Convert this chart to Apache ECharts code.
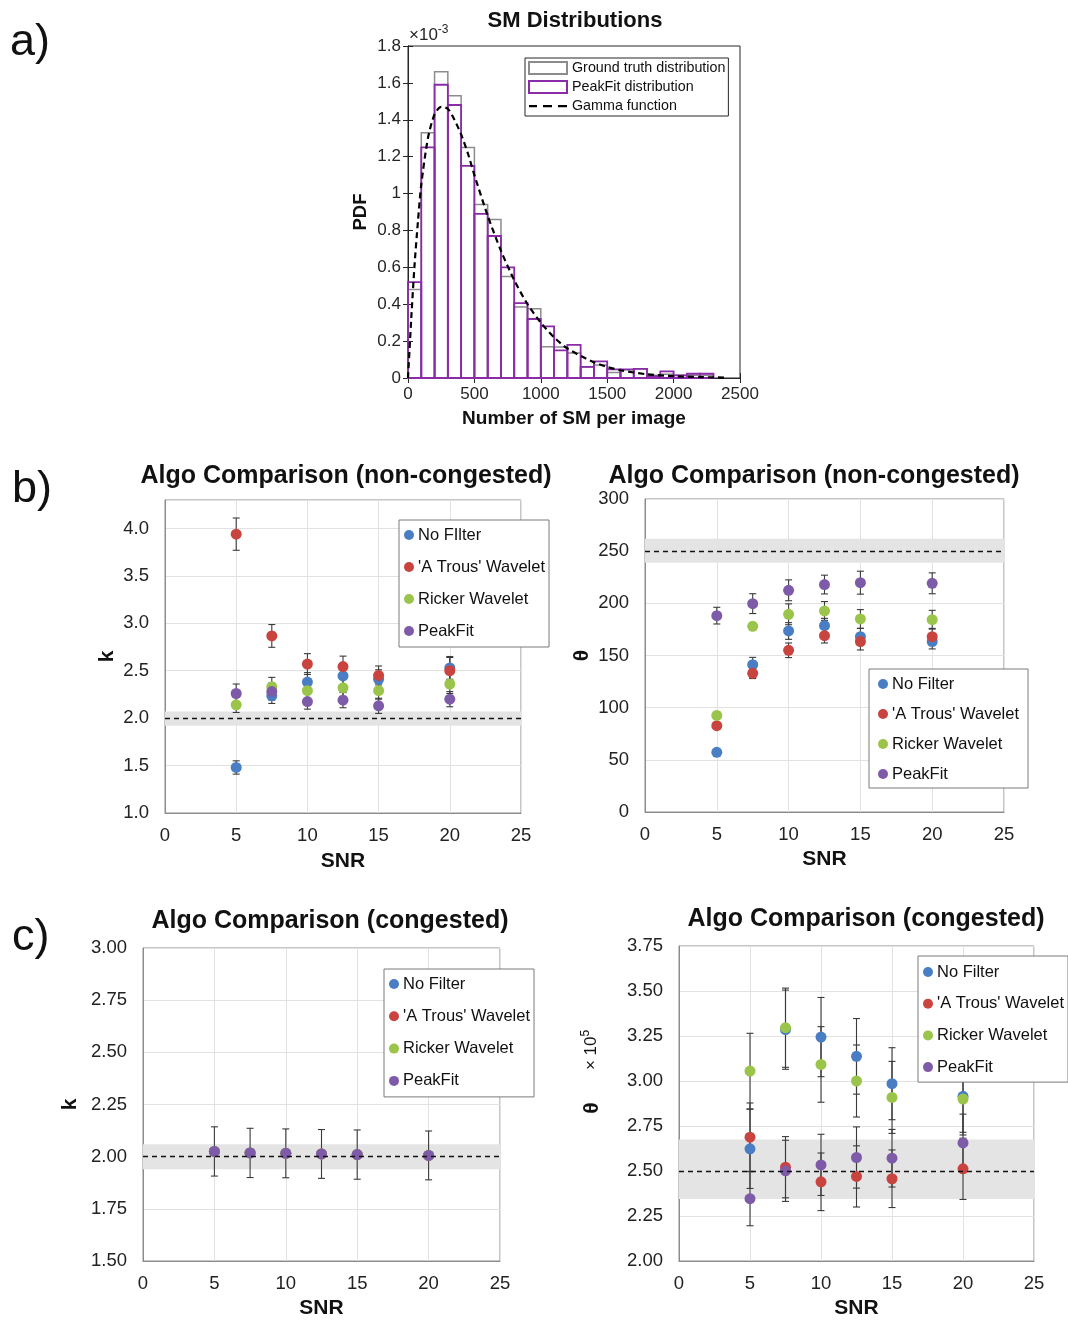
<!DOCTYPE html>
<html><head><meta charset="utf-8">
<script src="https://cdn.jsdelivr.net/npm/echarts@6/dist/echarts.min.js"></script>
<style>html,body{margin:0;padding:0;background:#fff}#c{width:1068px;height:1320px}</style>
</head><body><div id="c"></div>
<script>
const FONT = "'Liberation Sans', Arial, Helvetica, sans-serif";

// ---------- Panel a data (PDF values in units of 1e-3) ----------
const binStarts = [0,100,200,300,400,500,600,700,800,900,1000,1100,1200,1300,1400,1500,1600,1700,1800,1900,2000,2100,2200];
const binWidth = 100;
const groundTruthPdf = [0.48,1.33,1.66,1.53,1.25,0.94,0.86,0.55,0.385,0.376,0.17,0.168,0.135,0.06,0.07,0.03,0.045,0.05,0.015,0.02,0.015,0.015,0.015];
const peakFitPdf     = [0.52,1.25,1.59,1.48,1.15,0.89,0.77,0.60,0.406,0.32,0.28,0.15,0.18,0.06,0.09,0.047,0.047,0.05,0.01,0.036,0.014,0.023,0.023];
const gammaX = [0,25,50,75,100,150,200,250,300,350,400,450,500,600,700,800,900,1000,1100,1200,1300,1400,1500,1600,1800,2000,2200,2400];
const gammaY = [0,0.33,0.62,0.85,1.05,1.30,1.43,1.47,1.46,1.40,1.32,1.22,1.10,0.88,0.69,0.53,0.40,0.30,0.22,0.16,0.12,0.085,0.06,0.042,0.02,0.01,0.005,0.002];

// ---------- SNR panels ----------
const snr = [5,7.5,10,12.5,15,20];
const namesB1 = ['No FIlter', "'A Trous' Wavelet", 'Ricker Wavelet', 'PeakFit'];
const names = ['No Filter', "'A Trous' Wavelet", 'Ricker Wavelet', 'PeakFit'];
const colors = ['#4A7EC4', '#C9433F', '#9BC44B', '#7E5BA8'];

// b) k, non-congested
const kNC_noFilter = [1.48,2.235,2.38,2.445,2.41,2.53];
const kNC_aTrous   = [3.94,2.867,2.57,2.544,2.45,2.50];
const kNC_ricker   = [2.14,2.33,2.29,2.32,2.29,2.36];
const kNC_peakFit  = [2.26,2.28,2.175,2.19,2.13,2.20];
const kNC_err_noFilter = [0.07,0.08,0.10,0.10,0.10,0.12];
const kNC_err_aTrous   = [0.17,0.12,0.11,0.11,0.10,0.14];
const kNC_err_ricker   = [0.08,0.10,0.09,0.09,0.09,0.10];
const kNC_err_peakFit  = [0.10,0.09,0.08,0.08,0.08,0.08];
const kNC_band = [1.92,2.07], kNC_ref = 2;

// b) theta, non-congested
const tNC_noFilter = [57.2,141.2,173.5,178.6,168,163.3];
const tNC_aTrous   = [82.7,132.9,155,169,163.3,168];
const tNC_ricker   = [92.6,178,189.5,192.7,185,184.3];
const tNC_peakFit  = [188.2,199.7,212.5,218,219.8,219.2];
const tNC_err_noFilter = [1,7,8,7,8,7];
const tNC_err_aTrous   = [1,5,7,7,8,8];
const tNC_err_ricker   = [3,3,10,9,9,9];
const tNC_err_peakFit  = [8,9.5,10,9,11,10];
const tNC_band = [239,262], tNC_ref = 250;

// c) k, congested (all four series coincide; PeakFit drawn on top)
const kC_noFilter = [2.025,2.018,2.016,2.013,2.01,2.006];
const kC_aTrous   = [2.025,2.018,2.016,2.013,2.01,2.006];
const kC_ricker   = [2.025,2.018,2.016,2.013,2.01,2.006];
const kC_peakFit  = [2.025,2.018,2.016,2.013,2.01,2.006];
const kC_err_peakFit = [0.118,0.118,0.117,0.117,0.118,0.117];
const kC_band = [1.94,2.06], kC_ref = 2;

// c) theta (x 1e5), congested
const tC_noFilter = [2.623,3.285,3.244,3.137,2.985,2.915];
const tC_aTrous   = [2.688,2.521,2.44,2.47,2.457,2.512];
const tC_ricker   = [3.055,3.296,3.092,3.0,2.909,2.90];
const tC_peakFit  = [2.346,2.501,2.534,2.575,2.571,2.656];
const tC_err_noFilter = [0.22,0.22,0.22,0.21,0.20,0.20];
const tC_err_aTrous   = [0.19,0.17,0.16,0.17,0.16,0.17];
const tC_err_ricker   = [0.21,0.22,0.21,0.20,0.20,0.20];
const tC_err_peakFit  = [0.15,0.17,0.17,0.17,0.16,0.16];
const tC_band = [2.345,2.675], tC_ref = 2.5;

const xTicksSNR = [0,25,5];

// ---------- helpers ----------
function histRender(color, lw) {
  return function (params, api) {
    const a = api.coord([api.value(0), api.value(2)]);
    const b = api.coord([api.value(1), 0]);
    return {type:'rect', shape:{x:a[0], y:a[1], width:b[0]-a[0], height:b[1]-a[1]},
      style:{fill:'none', stroke:color, lineWidth:lw}};
  };
}
function errRender(params, api) {
  const x = api.value(0);
  const t = api.coord([x, api.value(2)]);
  const b = api.coord([x, api.value(1)]);
  const w = 3.5, st = {stroke:'#3a3a3a', lineWidth:1.1};
  return {type:'group', children:[
    {type:'line', shape:{x1:t[0], y1:t[1], x2:b[0], y2:b[1]}, style:st},
    {type:'line', shape:{x1:t[0]-w, y1:t[1], x2:t[0]+w, y2:t[1]}, style:st},
    {type:'line', shape:{x1:b[0]-w, y1:b[1], x2:b[0]+w, y2:b[1]}, style:st}
  ]};
}
// panel p (1..4) uses axis index p+1 (axes 0/1 belong to panel a)
function snrPanelSeries(p, nm, vals, errs, band, ref) {
  const ax = p + 1;
  const out = [{
    type:'line', xAxisIndex:ax, yAxisIndex:ax, data:[], z:1, silent:true,
    markArea:{silent:true, itemStyle:{color:'#e4e4e4'}, data:[[{yAxis:band[0]},{yAxis:band[1]}]]},
    markLine:{silent:true, symbol:['none','none'], label:{show:false},
      lineStyle:{color:'#111', type:[5,4], width:1.3}, data:[{yAxis:ref}]}
  }];
  for (let s = 0; s < 4; s++) {
    if (!errs[s]) continue;
    out.push({type:'custom', xAxisIndex:ax, yAxisIndex:ax, z:3, silent:true,
      renderItem:errRender, encode:{x:0, y:[1,2]},
      data: snr.map((x,i)=>[x, vals[s][i]-errs[s][i], vals[s][i]+errs[s][i]])});
  }
  for (let s = 0; s < 4; s++) {
    out.push({type:'scatter', name:nm[s], xAxisIndex:ax, yAxisIndex:ax, z:4,
      symbol:'circle', symbolSize:11, itemStyle:{color:colors[s], opacity:1},
      data: snr.map((x,i)=>[x, vals[s][i]])});
  }
  return out;
}
function snrX(g, nameGap) {
  return {type:'value', gridIndex:g, min:xTicksSNR[0], max:xTicksSNR[1], interval:xTicksSNR[2],
    name:'SNR', nameLocation:'middle', nameGap:nameGap,
    nameTextStyle:{fontFamily:FONT, fontSize:21, fontWeight:'bold', color:'#111'},
    axisLine:{show:true, lineStyle:{color:'#8c8c8c', width:1}}, axisTick:{show:false},
    axisLabel:{fontFamily:FONT, fontSize:18.5, color:'#222', margin:13},
    splitLine:{show:true, lineStyle:{color:'#e2e2e2', width:1}}};
}
function snrY(g, min, max, interval, dec, name, nameGap) {
  return {type:'value', gridIndex:g, min:min, max:max, interval:interval,
    name:name, nameLocation:'middle', nameGap:nameGap, nameRotate:90,
    nameTextStyle:{fontFamily:FONT, fontSize:21, fontWeight:'bold', color:'#111'},
    axisLine:{show:true, lineStyle:{color:'#8c8c8c', width:1}}, axisTick:{show:false},
    axisLabel:{fontFamily:FONT, fontSize:18.5, color:'#222', margin:16, showMaxLabel:true,
      formatter: v => { const r=(v-min)/interval; return Math.abs(r-Math.round(r))>1e-6 ? '' : v.toFixed(dec); }},
    splitLine:{show:true, lineStyle:{color:'#e2e2e2', width:1}}};
}
function snrLegend(left, top, nm, pad, gap) {
  return {show:true, orient:'vertical', left:left, top:top, data:nm, icon:'circle',
    itemWidth:10, itemHeight:10, itemGap:gap, padding:pad,
    backgroundColor:'#fff', borderColor:'#7a7a7a', borderWidth:1, borderRadius:0,
    selectedMode:false,
    textStyle:{fontFamily:FONT, fontSize:16.5, color:'#111', lineHeight:18, padding:[0,0,0,-1]}};
}

const axisA = {color:'#262626', width:1};
const dashIcon = 'path://M0,0h0.01v0.01h-0.01z M38,12h0.01v0.01h-0.01z M0,5h8v2.2h-8z M14,5h9v2.2h-9z M29,5h9v2.2h-9z';
const option = {
  animation:false,
  backgroundColor:'#fff',
  textStyle:{fontFamily:FONT},
  grid:[
    {left:408, top:46, width:332, height:332, show:true, borderColor:'#262626', borderWidth:1, backgroundColor:'#fff'},
    {left:165, top:500, width:356, height:313, show:true, borderColor:'#8c8c8c', borderWidth:1},
    {left:645, top:499, width:359, height:313, show:true, borderColor:'#8c8c8c', borderWidth:1},
    {left:143, top:948, width:357, height:314, show:true, borderColor:'#8c8c8c', borderWidth:1},
    {left:679, top:946, width:355, height:316, show:true, borderColor:'#8c8c8c', borderWidth:1}
  ],
  xAxis:[
    {type:'value', gridIndex:0, min:0, max:2500, interval:500,
     name:'Number of SM per image', nameLocation:'middle', nameGap:31,
     nameTextStyle:{fontFamily:FONT, fontSize:19, fontWeight:'bold', color:'#111'},
     axisLine:{lineStyle:axisA}, axisTick:{inside:true, length:5, lineStyle:axisA},
     axisLabel:{fontFamily:FONT, fontSize:17, color:'#262626', margin:8, formatter: v => String(v)},
     splitLine:{show:false}},
    {type:'value', gridIndex:0, position:'top', min:0, max:2500, interval:500,
     axisLine:{lineStyle:axisA}, axisTick:{inside:true, length:5, lineStyle:axisA},
     axisLabel:{show:false}, splitLine:{show:false}},
    snrX(1, 38), snrX(2, 37), snrX(3, 37), snrX(4, 37)
  ],
  yAxis:[
    {type:'value', gridIndex:0, min:0, max:1.8, interval:0.2,
     name:'PDF', nameLocation:'middle', nameGap:38, nameRotate:90,
     nameTextStyle:{fontFamily:FONT, fontSize:18.5, fontWeight:'bold', color:'#111'},
     axisLine:{lineStyle:axisA}, axisTick:{inside:true, length:5, lineStyle:axisA},
     axisLabel:{fontFamily:FONT, fontSize:17, color:'#262626', margin:7,
       formatter: v => String(Math.round(v*10)/10)}, splitLine:{show:false}},
    {type:'value', gridIndex:0, position:'right', min:0, max:1.8, interval:0.2,
     axisLine:{lineStyle:axisA}, axisTick:{inside:true, length:5, lineStyle:axisA},
     axisLabel:{show:false}, splitLine:{show:false}},
    snrY(1, 1, 4.3, 0.5, 1, 'k', 47),
    snrY(2, 0, 300, 50, 0, 'θ', 52),
    snrY(3, 1.5, 3.0, 0.25, 2, 'k', 62),
    snrY(4, 2.0, 3.75, 0.25, 2, '', 50)
  ],
  legend:[
    {show:true, orient:'vertical', left:525, top:58, padding:[3,3,3,3], itemGap:5,
     itemWidth:38, itemHeight:12, selectedMode:false,
     backgroundColor:'#fff', borderColor:'#262626', borderWidth:1,
     textStyle:{fontFamily:FONT, fontSize:14.3, color:'#111', lineHeight:12.5},
     data:[
       {name:'Ground truth distribution', icon:'rect', itemStyle:{color:'#fff', borderColor:'#8c8c8c', borderWidth:2}},
       {name:'PeakFit distribution', icon:'rect', itemStyle:{color:'#fff', borderColor:'#8A2BA8', borderWidth:2}},
       {name:'Gamma function', icon:dashIcon, itemStyle:{color:'#000', borderWidth:0}}
     ]},
    snrLegend(399, 520, namesB1, [6,4,7,5], 14),
    snrLegend(869, 669, names, [6,9,5,9], 12),
    snrLegend(384, 969, names, [6,4,7,5], 14.3),
    snrLegend(918, 956, names, [7,4,6,5], 13.7)
  ],
  series:[
    {type:'custom', name:'Ground truth distribution', xAxisIndex:0, yAxisIndex:0, z:2,
     renderItem:histRender('#8c8c8c', 1.5), encode:{x:[0,1], y:2},
     itemStyle:{color:'#fff', borderColor:'#8c8c8c', borderWidth:2},
     data: binStarts.map((x,i)=>[x, x+binWidth, groundTruthPdf[i]])},
    {type:'custom', name:'PeakFit distribution', xAxisIndex:0, yAxisIndex:0, z:3,
     renderItem:histRender('#8A2BA8', 1.8), encode:{x:[0,1], y:2},
     itemStyle:{color:'#fff', borderColor:'#8A2BA8', borderWidth:2},
     data: binStarts.map((x,i)=>[x, x+binWidth, peakFitPdf[i]])},
    {type:'line', name:'Gamma function', xAxisIndex:0, yAxisIndex:0, z:4, smooth:0.25,
     symbol:'none', lineStyle:{color:'#000', width:2.2, type:[6,4]}, itemStyle:{color:'#000'},
     data: gammaX.map((x,i)=>[x, gammaY[i]])},
    ...snrPanelSeries(1, namesB1, [kNC_noFilter,kNC_aTrous,kNC_ricker,kNC_peakFit],
        [kNC_err_noFilter,kNC_err_aTrous,kNC_err_ricker,kNC_err_peakFit], kNC_band, kNC_ref),
    ...snrPanelSeries(2, names, [tNC_noFilter,tNC_aTrous,tNC_ricker,tNC_peakFit],
        [tNC_err_noFilter,tNC_err_aTrous,tNC_err_ricker,tNC_err_peakFit], tNC_band, tNC_ref),
    ...snrPanelSeries(3, names, [kC_noFilter,kC_aTrous,kC_ricker,kC_peakFit],
        [null,null,null,kC_err_peakFit], kC_band, kC_ref),
    ...snrPanelSeries(4, names, [tC_noFilter,tC_aTrous,tC_ricker,tC_peakFit],
        [tC_err_noFilter,tC_err_aTrous,tC_err_ricker,tC_err_peakFit], tC_band, tC_ref)
  ],
  graphic:[
    {type:'text', left:10, top:20, style:{text:'a)', font:'45px '+FONT, fill:'#111'}},
    {type:'text', left:12, top:467, style:{text:'b)', font:'45px '+FONT, fill:'#111'}},
    {type:'text', left:12, top:915, style:{text:'c)', font:'45px '+FONT, fill:'#111'}},
    {type:'text', x:575, y:21, style:{text:'SM Distributions', font:'bold 22px '+FONT, fill:'#111', align:'center', verticalAlign:'middle'}},
    {type:'text', x:346, y:476, style:{text:'Algo Comparison (non-congested)', font:'bold 25px '+FONT, fill:'#111', align:'center', verticalAlign:'middle'}},
    {type:'text', x:814, y:476, style:{text:'Algo Comparison (non-congested)', font:'bold 25px '+FONT, fill:'#111', align:'center', verticalAlign:'middle'}},
    {type:'text', x:330, y:921, style:{text:'Algo Comparison (congested)', font:'bold 25px '+FONT, fill:'#111', align:'center', verticalAlign:'middle'}},
    {type:'text', x:866, y:919, style:{text:'Algo Comparison (congested)', font:'bold 25px '+FONT, fill:'#111', align:'center', verticalAlign:'middle'}},
    {type:'text', x:409, y:46, style:{text:'×10{s|-3}', font:'17px '+FONT, fill:'#262626', verticalAlign:'bottom',
      rich:{s:{fontSize:12, fontFamily:FONT, verticalAlign:'top', padding:[0,0,10,0]}}}},
    {type:'text', x:592, y:1108, rotation:Math.PI/2, style:{text:'θ', font:'bold 21px '+FONT, fill:'#111', align:'center', verticalAlign:'middle'}},
    {type:'text', x:591, y:1050, rotation:Math.PI/2, style:{text:'× 10{s|5}', font:'17px '+FONT, fill:'#111', align:'center', verticalAlign:'middle',
      rich:{s:{fontSize:12, fontFamily:FONT, padding:[0,0,10,0]}}}}
  ]
};
const chart = echarts.init(document.getElementById('c'), null, {renderer:'canvas'});
chart.setOption(option);
</script>
</body></html>
